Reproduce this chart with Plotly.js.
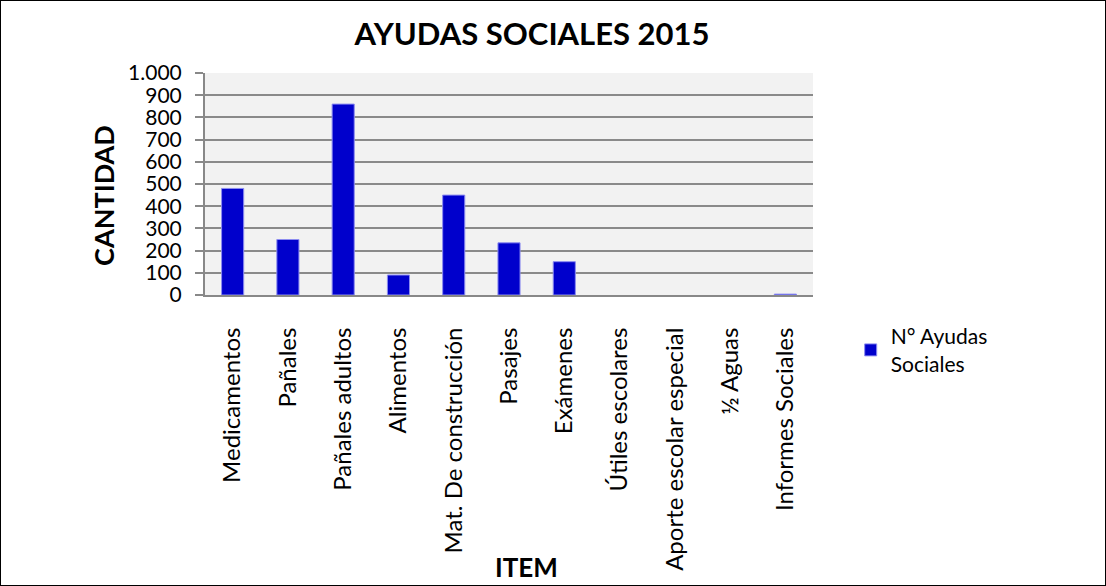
<!DOCTYPE html>
<html><head><meta charset="utf-8">
<script src="https://cdn.plot.ly/plotly-3.0.1.min.js"></script>
<style>html,body{margin:0;padding:0;background:#fff}#c{width:1104px;height:584px;border:1px solid #000}</style>
</head><body><div id="c"></div>
<script>
const categories = ["Medicamentos","Pañales","Pañales adultos","Alimentos","Mat. De construcción","Pasajes","Exámenes","Útiles escolares","Aporte escolar especial","½ Aguas","Informes Sociales"];
const values = [480, 250, 860, 90, 450, 235, 150, 0, 0, 0, 4];
const seriesName = "N° Ayudas<br>Sociales";
const yTicks = [0,100,200,300,400,500,600,700,800,900,1000];

const F = "Lato, 'Open Sans', 'Liberation Sans', sans-serif";
Plotly.newPlot('c', [{
  type: 'bar', x: categories, y: values, name: seriesName,
  marker: {color: '#0000cc', line: {color: '#8c8cf0', width: values.map(v => v > 0 ? 1 : 0)}},
  width: 0.4, showlegend: true
}], {
  width: 1104, height: 584,
  separators: ',.',
  margin: {l: 204, r: 292, t: 72, b: 290},
  paper_bgcolor: '#fff', plot_bgcolor: '#f2f2f2',
  font: {family: F, color: '#000'},
  title: {text: '<b>AYUDAS SOCIALES 2015</b>', font: {size: 31, family: F}, x: 0.481, xanchor: 'center', y: 0.944, yanchor: 'middle'},
  xaxis: {
    type: 'category', tickangle: -90, tickfont: {size: 24, family: F},
    ticks: 'outside', ticklen: 21, tickcolor: 'rgba(0,0,0,0)',
    showline: true, linecolor: '#888', linewidth: 2, showgrid: false,
    automargin: false
  },
  yaxis: {
    range: [0, 1000], tickvals: yTicks, tickformat: ',d',
    tickfont: {size: 21, family: F}, ticklabelstandoff: 9,
    ticks: 'outside', ticklen: 8, tickcolor: '#888', tickwidth: 2,
    showline: true, linecolor: '#888', linewidth: 2,
    showgrid: true, gridcolor: '#8a8a8a', gridwidth: 2, zeroline: false,
    automargin: false
  },
  annotations: [
    {text: '<b>CANTIDAD</b>', xref: 'paper', yref: 'paper', x: -0.168, y: 0.45, xanchor: 'center', yanchor: 'middle', textangle: -90, showarrow: false, font: {size: 27, family: F}},
    {text: '<b>ITEM</b>', xref: 'paper', yref: 'paper', x: 0.528, y: -1.225, xanchor: 'center', yanchor: 'middle', showarrow: false, font: {size: 26, family: F}}
  ],
  legend: {x: 1.062, xanchor: 'left', y: -0.095, yanchor: 'top', font: {size: 21, family: F}, bgcolor: 'rgba(0,0,0,0)'},
  bargap: 0.6
}, {displayModeBar: false, staticPlot: true});
</script></body></html>
